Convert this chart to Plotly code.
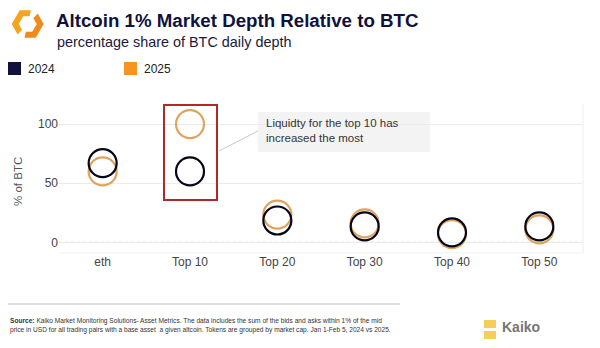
import math
import plotly.graph_objects as go

categories = ["eth", "Top 10", "Top 20", "Top 30", "Top 40", "Top 50"]
values_2024 = [67, 60, 18.5, 13.5, 8.5, 13.5]
values_2025 = [60, 100, 23.5, 16, 7, 11]
y_ticks = [0, 50, 100]

W, H = 600, 348
def px(x): return x / W
def py(y): return 1 - y / H

NAVY = "#10123d"
ORANGE = "#f7931e"
CIRC_OR = "#e0a35e"
FONT = "Liberation Sans, Arial"

fig = go.Figure()
fig.add_trace(go.Scatter(x=categories, y=values_2025, mode="markers", name="2025",
                         marker=dict(symbol="circle-open", size=28, color=CIRC_OR, line=dict(width=2.2, color=CIRC_OR)),
                         showlegend=False))
fig.add_trace(go.Scatter(x=categories, y=values_2024, mode="markers", name="2024",
                         marker=dict(symbol="circle-open", size=28, color="#06061a", line=dict(width=2.2, color="#06061a")),
                         showlegend=False))

shapes = []
shapes.append(dict(type="line", xref="paper", yref="y", x0=px(59), x1=px(583), y0=0, y1=0,
                   line=dict(color="#b5b5b5", width=1, dash="dot"), layer="below"))
shapes.append(dict(type="line", xref="paper", yref="paper", x0=px(583), x1=px(583), y0=py(104), y1=py(253),
                   line=dict(color="#eeeeee", width=1), layer="below"))
shapes.append(dict(type="line", xref="paper", yref="paper", x0=px(59), x1=px(583), y0=py(253), y1=py(253),
                   line=dict(color="#f0f0f0", width=1), layer="below"))
shapes.append(dict(type="rect", xref="paper", yref="paper", x0=px(164), x1=px(217), y0=py(105), y1=py(200),
                   line=dict(color="#b0282a", width=2)))
shapes.append(dict(type="line", xref="paper", yref="paper", x0=px(219), x1=px(258), y0=py(151), y1=py(131),
                   line=dict(color="#c8c8c8", width=1)))
shapes.append(dict(type="rect", xref="paper", yref="paper", x0=px(258), x1=px(430), y0=py(112), y1=py(152),
                   line=dict(width=0), fillcolor="#f3f3f3", layer="below"))
shapes.append(dict(type="rect", xref="paper", yref="paper", x0=px(8), x1=px(21), y0=py(62), y1=py(75),
                   line=dict(width=0), fillcolor=NAVY))
shapes.append(dict(type="rect", xref="paper", yref="paper", x0=px(124), x1=px(137), y0=py(62), y1=py(75),
                   line=dict(width=0), fillcolor=ORANGE))
shapes.append(dict(type="line", xref="paper", yref="paper", x0=px(8), x1=px(400), y0=py(304), y1=py(304),
                   line=dict(color="#bdbdbd", width=1)))

# logo: hexagonal ring split in two pieces
CX, CY, RO, RI = 27.7, 24.0, 16.0, 9.0
def hexpt(t, r):
    k0 = math.floor(t) % 6
    k1 = (k0 + 1) % 6
    f = t - math.floor(t)
    a0, a1 = math.radians(60 * k0), math.radians(60 * k1)
    x0, y0 = CX + r * math.cos(a0), CY - r * math.sin(a0)
    x1, y1 = CX + r * math.cos(a1), CY - r * math.sin(a1)
    return (x0 + (x1 - x0) * f, y0 + (y1 - y0) * f)
def piece(t0, t1):
    ts = [t0] + [k for k in range(math.ceil(t0), math.floor(t1) + 1) if t0 < k < t1] + [t1]
    pts = [hexpt(t, RO) for t in ts] + [hexpt(t, RI) for t in reversed(ts)]
    return "M " + " L ".join(f"{px(x):.5f},{py(y):.5f}" for x, y in pts) + " Z"
shapes.append(dict(type="path", xref="paper", yref="paper", path=piece(1.3, 3.75),
                   fillcolor="#f5a41f", line=dict(width=0)))
shapes.append(dict(type="path", xref="paper", yref="paper", path=piece(4.3, 6.75),
                   fillcolor="#f08a1c", line=dict(width=0)))

# Kaiko mark (bottom right)
shapes.append(dict(type="rect", xref="paper", yref="paper", x0=px(484), x1=px(496), y0=py(320), y1=py(328),
                   line=dict(width=0), fillcolor="#f2c230", opacity=0.8))
shapes.append(dict(type="rect", xref="paper", yref="paper", x0=px(484), x1=px(496), y0=py(331), y1=py(339),
                   line=dict(width=0), fillcolor="#f2c230", opacity=0.8))

annotations = [
    dict(text="<b>Altcoin 1% Market Depth Relative to BTC</b>", x=px(54), y=py(20), xref="paper", yref="paper",
         xanchor="left", yanchor="middle", showarrow=False, font=dict(size=18.7, color=NAVY, family=FONT)),
    dict(text="percentage share of BTC daily depth", x=px(55), y=py(42), xref="paper", yref="paper",
         xanchor="left", yanchor="middle", showarrow=False, font=dict(size=14.4, color="#1a1a3a", family=FONT)),
    dict(text="2024", x=px(26), y=py(69), xref="paper", yref="paper", xanchor="left", yanchor="middle",
         showarrow=False, font=dict(size=12, color="#222", family=FONT)),
    dict(text="2025", x=px(142), y=py(69), xref="paper", yref="paper", xanchor="left", yanchor="middle",
         showarrow=False, font=dict(size=12, color="#222", family=FONT)),
    dict(text="Liquidty for the top 10 has<br>increased the most", x=px(264), y=py(130.5), xref="paper", yref="paper",
         xanchor="left", yanchor="middle", align="left", showarrow=False,
         font=dict(size=11.5, color="#333", family=FONT)),
    dict(text="% of BTC", x=px(18), y=py(182), xref="paper", yref="paper", textangle=-90,
         xanchor="center", yanchor="middle", showarrow=False, font=dict(size=11.5, color="#555", family=FONT)),
    dict(text="<b>Source:</b> Kaiko Market Monitoring Solutions- Asset Metrics. The data includes the sum of the bids and asks within 1% of the mid<br>"
              "price in USD for all trading pairs with a base asset  a given altcoin. Tokens are grouped by market cap. Jan 1-Feb 5, 2024 vs 2025.",
         x=px(8), y=py(325.5), xref="paper", yref="paper", xanchor="left", yanchor="middle", align="left", showarrow=False,
         font=dict(size=6.6, color="#333", family=FONT)),
    dict(text="<b>Kaiko</b>", x=px(500), y=py(327), xref="paper", yref="paper", xanchor="left", yanchor="middle",
         showarrow=False, font=dict(size=14, color="#555", family=FONT), opacity=0.8),
]

fig.update_layout(
    width=W, height=H, margin=dict(l=0, r=0, t=0, b=0),
    paper_bgcolor="white", plot_bgcolor="white",
    xaxis=dict(domain=[px(59), px(583)], range=[-0.5, 5.5], showgrid=False, zeroline=False, showline=False,
               ticks="", tickfont=dict(size=12, color="#444", family=FONT)),
    yaxis=dict(domain=[py(253), py(104)], range=[-9, 117], tickvals=y_ticks, showgrid=True, gridcolor="#ebebeb",
               zeroline=False, showline=False, ticks="", tickfont=dict(size=12, color="#444", family=FONT)),
    shapes=shapes, annotations=annotations, showlegend=False,
)
fig.write_html("out.html")
